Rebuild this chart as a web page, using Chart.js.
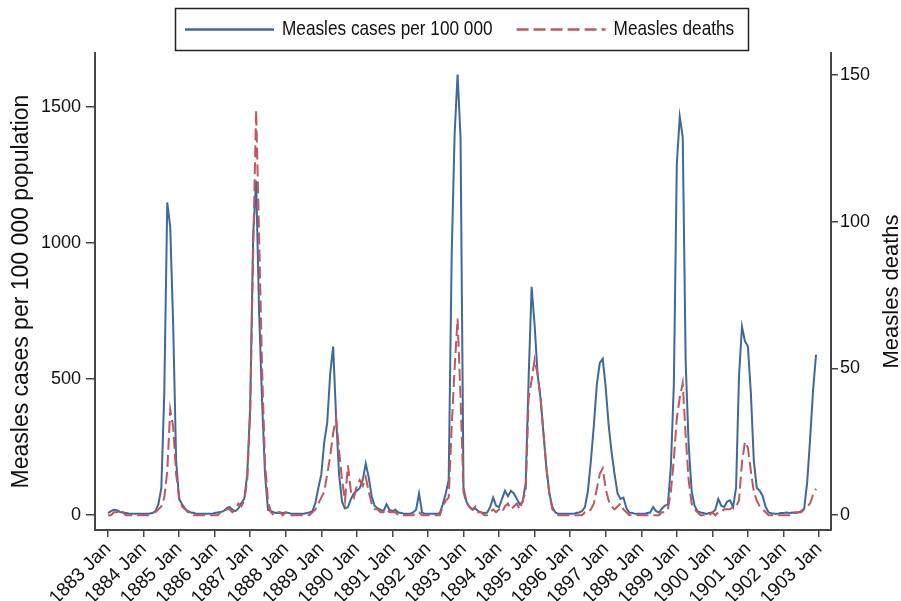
<!DOCTYPE html>
<html>
<head>
<meta charset="utf-8">
<title>Measles cases and deaths, 1883-1903</title>
<script src="https://cdn.jsdelivr.net/npm/chart.js@4.4.1/dist/chart.umd.min.js"></script>
<style>
  html, body { margin: 0; padding: 0; background: #fff; }
  #wrap { width: 901px; height: 601px; }
</style>
</head>
<body>
<div id="wrap"><canvas id="chart" width="901" height="601"></canvas></div>
<script>
// x axis: one tick per January, months counted from 1883 Jan
const tickLabels = ['1883 Jan', '1884 Jan', '1885 Jan', '1886 Jan', '1887 Jan', '1888 Jan', '1889 Jan',
    '1890 Jan', '1891 Jan', '1892 Jan', '1893 Jan', '1894 Jan', '1895 Jan', '1896 Jan', '1897 Jan',
    '1898 Jan', '1899 Jan', '1900 Jan', '1901 Jan', '1902 Jan', '1903 Jan'];
const tickMonths = [0, 12, 24, 36, 48, 60, 72, 84, 96, 108, 120, 132, 144, 156, 168, 180, 192, 204, 216, 228, 240];
const leftTicks = [0, 500, 1000, 1500];
const rightTicks = [0, 50, 100, 150];

// monthly measles cases per 100 000, 1883 Jan .. 1902 Dec (one row per year)
const cases = [
    8, 15, 20, 18, 12, 10, 8, 6, 5, 5, 5, 5,
    5, 5, 6, 8, 15, 40, 100, 450, 1150, 1060, 700, 200,
    60, 40, 25, 15, 10, 8, 5, 5, 5, 5, 5, 5,
    8, 10, 12, 15, 25, 30, 20, 15, 25, 45, 60, 150,
    400, 1030, 1230, 750, 420, 150, 20, 15, 10, 8, 10, 8,
    10, 8, 5, 5, 5, 5, 5, 8, 10, 15, 45, 100,
    150, 270, 340, 520, 620, 360, 150, 50, 25, 30, 60, 80,
    90, 100, 130, 190, 140, 70, 35, 25, 20, 15, 40, 20,
    15, 20, 10, 8, 5, 5, 5, 10, 20, 80, 10, 5,
    5, 5, 5, 5, 8, 40, 80, 130, 950, 1400, 1620, 1390,
    100, 50, 30, 20, 25, 15, 10, 8, 10, 30, 65, 35,
    30, 60, 90, 70, 90, 80, 60, 40, 50, 120, 510, 840,
    700, 520, 430, 300, 170, 80, 30, 10, 5, 5, 5, 5,
    5, 5, 8, 10, 15, 30, 90, 200, 330, 480, 560, 575,
    470, 330, 230, 150, 80, 60, 65, 25, 10, 8, 5, 5,
    5, 5, 8, 10, 30, 15, 10, 25, 35, 40, 180, 480,
    1290, 1465, 1390, 560, 260, 90, 35, 15, 10, 8, 5, 8,
    10, 20, 60, 35, 30, 50, 55, 30, 100, 512, 693, 640,
    621, 450, 200, 100, 90, 70, 30, 10, 7, 5, 5, 8,
    8, 10, 8, 10, 8, 10, 15, 25, 120, 280, 460, 590
];

// monthly measles deaths, same months
const deaths = [
    0, 0, 1, 1, 2, 1, 0, 0, 0, 0, 0, 0,
    0, 0, 0, 1, 1, 2, 3, 6, 15, 36, 30, 14,
    6, 3, 2, 1, 1, 0, 0, 0, 0, 0, 0, 0,
    0, 0, 1, 1, 2, 2, 1, 2, 4, 3, 5, 12,
    35, 90, 138, 95, 50, 18, 5, 1, 0, 1, 1, 0,
    1, 0, 0, 0, 0, 0, 0, 0, 0, 1, 2, 4,
    6, 8, 14, 20, 28, 33, 22, 12, 5, 17, 8, 6,
    10, 12, 10, 13, 8, 4, 2, 2, 1, 1, 2, 1,
    1, 1, 0, 0, 0, 0, 0, 0, 1, 1, 0, 0,
    0, 0, 0, 0, 0, 3, 5, 6, 30, 50, 67, 40,
    8, 4, 3, 2, 3, 1, 1, 0, 0, 1, 2, 1,
    2, 1, 3, 4, 2, 3, 4, 2, 5, 8, 40, 46,
    53, 48, 40, 28, 16, 7, 2, 1, 0, 0, 0, 0,
    0, 0, 0, 0, 0, 1, 1, 2, 4, 9, 14, 16,
    9, 5, 3, 2, 3, 4, 2, 1, 0, 0, 0, 0,
    0, 0, 0, 0, 0, 0, 0, 1, 1, 2, 8, 19,
    33, 40, 45, 27, 12, 4, 2, 1, 0, 0, 0, 0,
    1, 0, 1, 1, 2, 2, 2, 3, 3, 5, 18, 25,
    23, 15, 8, 5, 3, 2, 1, 0, 0, 0, 0, 0,
    0, 0, 0, 1, 1, 1, 1, 2, 3, 4, 7, 9
];

const months = cases.map((v, i) => i);

const fontFamily = "'Liberation Sans', Arial, Helvetica, sans-serif";
const axisColor = '#474747';
const textColor = '#111';

// boxed legend at the top and the right-hand axis title (reads bottom to top)
const extras = {
    id: 'extras',
    afterDraw(chart) {
        const ctx = chart.ctx;
        ctx.save();

        ctx.strokeStyle = '#222';
        ctx.lineWidth = 1.5;
        ctx.strokeRect(175.5, 8.5, 573, 42);

        // the source lettering is condensed, so squeeze the legend text a little
        const squeeze = 0.82;
        ctx.font = '21px ' + fontFamily;
        ctx.textBaseline = 'middle';
        ctx.textAlign = 'left';
        ctx.fillStyle = textColor;
        const y = 29.5;
        let x = 185;
        chart.data.datasets.forEach(ds => {
            ctx.beginPath();
            ctx.setLineDash(ds.borderDash || []);
            ctx.strokeStyle = ds.borderColor;
            ctx.lineWidth = 2.5;
            ctx.moveTo(x, y);
            ctx.lineTo(x + 89, y);
            ctx.stroke();
            ctx.setLineDash([]);
            ctx.save();
            ctx.translate(x + 97, y);
            ctx.scale(squeeze, 1);
            ctx.fillText(ds.label, 0, 0);
            ctx.restore();
            x += 97 + ctx.measureText(ds.label).width * squeeze + 24;
        });

        const right = chart.scales.y2;
        ctx.font = '22px ' + fontFamily;
        ctx.textAlign = 'center';
        ctx.translate(892, (right.top + right.bottom) / 2);
        ctx.rotate(-Math.PI / 2);
        ctx.fillText('Measles deaths', 0, 0);
        ctx.restore();
    }
};

new Chart(document.getElementById('chart'), {
    type: 'line',
    data: {
        labels: months,
        datasets: [
            {
                label: 'Measles cases per 100 000',
                data: cases,
                yAxisID: 'y',
                borderColor: '#3e6998',
                borderWidth: 2,
                pointRadius: 0,
                order: 2
            },
            {
                label: 'Measles deaths',
                data: deaths,
                yAxisID: 'y2',
                borderColor: '#bd5761',
                borderWidth: 2,
                borderDash: [12, 5],
                pointRadius: 0,
                order: 1
            }
        ]
    },
    options: {
        responsive: false,
        animation: false,
        layout: { padding: { top: 53 } },
        plugins: {
            legend: { display: false },
            tooltip: { enabled: false }
        },
        scales: {
            x: {
                type: 'linear',
                min: -4.39,
                max: 244.05,
                afterBuildTicks: scale => { scale.ticks = tickMonths.map(v => ({ value: v })); },
                afterFit: scale => { scale.height = 71; },
                grid: { drawOnChartArea: false, drawTicks: true, tickLength: 7, color: axisColor, lineWidth: 1.5 },
                border: { display: true, color: axisColor, width: 2 },
                ticks: {
                    autoSkip: false,
                    minRotation: 45,
                    maxRotation: 45,
                    padding: 1,
                    color: textColor,
                    font: { family: fontFamily, size: 19 },
                    callback: (value, index) => tickLabels[index]
                }
            },
            y: {
                position: 'left',
                min: -54.35,
                max: 1699.3,
                afterBuildTicks: scale => { scale.ticks = leftTicks.map(v => ({ value: v })); },
                afterFit: scale => { scale.width = 95; },
                grid: { drawOnChartArea: false, drawTicks: true, tickLength: 9, color: axisColor, lineWidth: 1.5 },
                border: { display: true, color: axisColor, width: 2 },
                ticks: {
                    padding: 5,
                    color: textColor,
                    font: { family: fontFamily, size: 18 },
                    callback: value => String(value)
                },
                title: {
                    display: true,
                    text: 'Measles cases per 100 000 population',
                    color: textColor,
                    font: { family: fontFamily, size: 23 },
                    padding: { top: 8, bottom: 0 }
                }
            },
            y2: {
                position: 'right',
                min: -5.03,
                max: 157.4,
                afterBuildTicks: scale => { scale.ticks = rightTicks.map(v => ({ value: v })); },
                afterFit: scale => { scale.width = 70; },
                grid: { drawOnChartArea: false, drawTicks: true, tickLength: 7, color: axisColor, lineWidth: 1.5 },
                border: { display: true, color: axisColor, width: 2 },
                ticks: {
                    padding: 2,
                    color: textColor,
                    font: { family: fontFamily, size: 18 },
                    callback: value => String(value)
                }
            }
        }
    },
    plugins: [extras]
});
</script>
</body>
</html>
